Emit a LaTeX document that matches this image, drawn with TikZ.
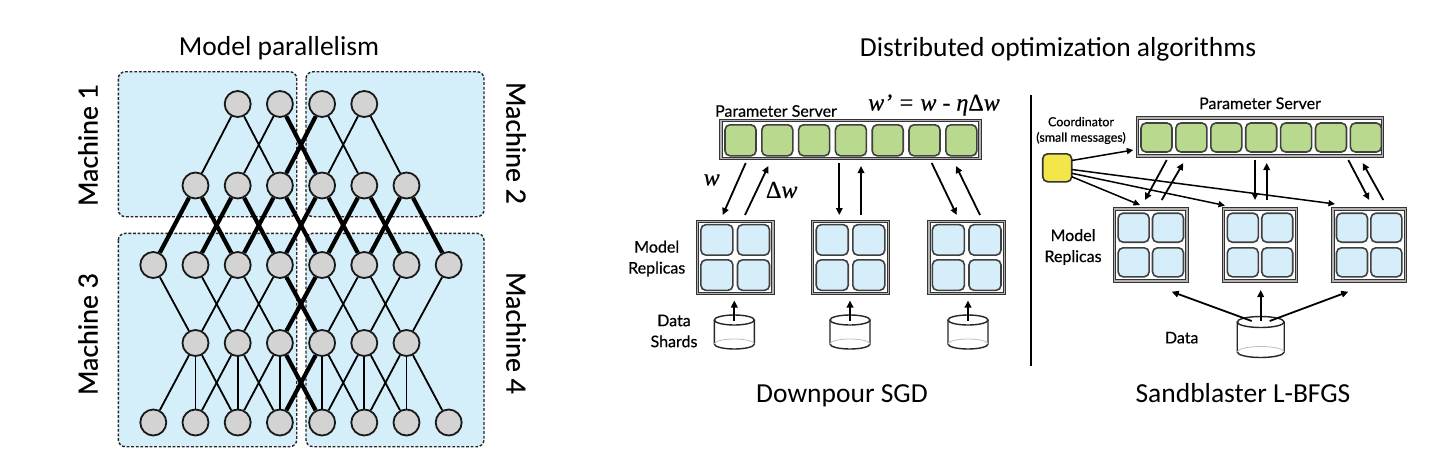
\documentclass[tikz,border=0pt]{standalone}
\usepackage{fontspec}
\setmainfont{Carlito}
\newfontfamily\gill[FakeBold=0.5]{Lato}
\newfontfamily\tms[FakeBold=0.6]{Liberation Serif}
\usetikzlibrary{arrows.meta}
\definecolor{boxblue}{RGB}{212,238,250}
\definecolor{sqblue}{RGB}{213,238,250}
\definecolor{sqgreen}{RGB}{185,217,143}
\definecolor{coordyellow}{RGB}{242,230,75}
\definecolor{nodegray}{RGB}{211,211,211}
\tikzset{
  mbox/.style={draw=black!85, line width=1.4pt, dash pattern=on 2.8pt off 1.8pt, rounded corners=7pt, fill=boxblue},
  neuron/.style={circle, draw=black!90, line width=1.8pt, fill=nodegray, minimum size=26pt, inner sep=0pt},
  thinE/.style={line width=1.8pt},
  thickE/.style={line width=4.2pt},
  ttl/.style={font=\fontsize{27.5}{33}\selectfont, inner sep=0pt},
  mlab/.style={font=\gill\fontsize{26.5}{30}\selectfont, inner sep=0pt},
  glab/.style={font=\gill\fontsize{16}{21}\selectfont, inner sep=0pt, align=center},
  slab/.style={font=\gill\fontsize{12.5}{15.5}\selectfont, inner sep=0pt, align=center},
  mathlab/.style={font=\tms\fontsize{24}{28}\selectfont, inner sep=0pt},
  outerbox/.style={draw=black!80, line width=1pt, double=black!30, double distance=1.2pt, fill=white, inner sep=0pt},
  gsq/.style={draw=black!75, line width=1.6pt, rounded corners=5pt, fill=sqgreen, inner sep=0pt},
  bsq/.style={draw=black!75, line width=1.6pt, rounded corners=5pt, fill=sqblue, inner sep=0pt},
  ysq/.style={draw=black!80, line width=1.6pt, rounded corners=5pt, fill=coordyellow, inner sep=0pt, minimum width=29pt, minimum height=28pt},
  arr/.style={line width=1.8pt, -{Triangle[length=7pt,width=6.5pt]}},
  carr/.style={line width=1.5pt, -{Triangle[length=6.5pt,width=6pt]}},
  cylline/.style={draw=black!85, line width=1.4pt}
}
\begin{document}
\begin{tikzpicture}[x=1pt,y=-1pt]
\useasboundingbox (0,0) rectangle (1448,471);
\fill[white] (0,0) rectangle (1448,471);

% ---------------- Model parallelism ----------------
\node[ttl, anchor=base] (t1) at (279,55.7) {Model parallelism};
\draw[mbox] (118.3,71.7) rectangle (296.7,216.7);
\draw[mbox] (306,71.7) rectangle (484,216.7);
\draw[mbox] (118.3,233.3) rectangle (296.7,446.7);
\draw[mbox] (306,233.3) rectangle (484,446.7);

\node[mlab, rotate=90] (mc1) at (88,145) {Machine 1};
\node[mlab, rotate=-90] (mc2) at (516,143) {Machine 2};
\node[mlab, rotate=90] (mc3) at (88,334) {Machine 3};
\node[mlab, rotate=-90] (mc4) at (516,333) {Machine 4};

\foreach \i in {2,...,5} \node[neuron] (a\i) at ({153.3+42.2*\i},104) {};
\foreach \i in {1,...,6} \node[neuron] (b\i) at ({153.3+42.2*\i},185.5) {};
\foreach \i in {0,...,7} \node[neuron] (c\i) at ({153.3+42.2*\i},265) {};
\foreach \i in {1,...,6} \node[neuron] (d\i) at ({153.3+42.2*\i},343) {};
\foreach \i in {0,...,7} \node[neuron] (e\i) at ({153.3+42.2*\i},422.5) {};

\foreach \u/\v in {a2/b1,a2/b3,a3/b2,a4/b5,a5/b4,a5/b6,
  d1/c0,d1/c2,d2/c1,d2/c3,d3/c2,d4/c5,d5/c4,d5/c6,d6/c5,d6/c7,
  d1/e0,d1/e1,d1/e2,d2/e1,d2/e2,d2/e3,d3/e2,d3/e3,d4/e4,d4/e5,
  d5/e4,d5/e5,d5/e6,d6/e5,d6/e6,d6/e7}
  \draw[thinE] (\u) -- (\v);
\foreach \u/\v in {a3/b4,a4/b3,
  b1/c0,b1/c2,b2/c1,b2/c3,b3/c2,b3/c4,b4/c3,b4/c5,b5/c4,b5/c6,b6/c5,b6/c7,
  d3/c4,d4/c3,d3/e4,d4/e3}
  \draw[thickE] (\u) -- (\v);

% ---------------- Distributed optimization ----------------
\node[ttl, anchor=base] (t2) at (1058,56) {Distributed optimization algorithms};

% Downpour SGD
\node[glab] (psl1) at (776,111) {Parameter Server};
\node[mathlab, anchor=base] (form) at (934,110.5) {\textit{w’ = w - η}Δ\textit{w}};
\node[outerbox, minimum width=259pt, minimum height=38pt] (ps1) at (850.5,139.7) {};
\foreach \k in {0,...,6} \node[gsq, minimum width=31pt, minimum height=31pt] (psa\k) at ({740.5+36.8*\k},140.3) {};

\foreach \n/\x in {ra/735.2, rb/850.5, rc/966.7} {
  \node[outerbox, minimum width=75.5pt, minimum height=72.5pt] (\n) at (\x,257.5) {};
  \foreach \dx/\p in {-18.3/l,18.3/r} \foreach \dy/\q in {-17.6/t,17.6/b}
    \node[bsq, minimum width=32pt, minimum height=30.5pt] (\n\p\q) at ({\x+\dx},{257.5+\dy}) {};
}
\node[glab] (mr1) at (656.7,258.5) {Model\\Replicas};
\node[glab] (ds1) at (674,331) {Data\\Shards};

% cylinders (data shards)
\foreach \n/\cx in {cya/734.3, cyb/850, cyc/968} {
  \filldraw[cylline, fill=white] (\cx-20,320) -- (\cx-20,344) arc[start angle=180, end angle=360, x radius=20pt, y radius=5pt] -- (\cx+20,320);
  \draw[black!25, line width=0.8pt] (\cx-20,344) arc[start angle=180, end angle=0, x radius=20pt, y radius=5pt];
  \draw[cylline] (\cx,320) ellipse[x radius=20pt, y radius=5pt];
  \coordinate (\n) at (\cx,321);
  \coordinate (\n t) at (\cx,300.5);
}
\draw[arr] (cya) -- (cyat);
\draw[arr] (cyb) -- (cybt);
\draw[arr] (cyc) -- (cyct);

\coordinate (p1d0) at (745.7,163); \coordinate (p1d1) at (722.7,215);
\coordinate (p1u0) at (745,215);   \coordinate (p1u1) at (768.3,166);
\coordinate (p2d0) at (839.3,163); \coordinate (p2d1) at (839.3,215);
\coordinate (p2u0) at (861,215);   \coordinate (p2u1) at (861,166);
\coordinate (p3d0) at (931.7,163); \coordinate (p3d1) at (956.7,215);
\coordinate (p3u0) at (980,215);   \coordinate (p3u1) at (956,166);
\foreach \p in {p1,p2,p3} {
  \draw[arr] (\p d0) -- (\p d1);
  \draw[arr] (\p u0) -- (\p u1);
}
\node[mathlab] (wl) at (711.7,180) {\textit{w}};
\node[mathlab] (dwl) at (781.7,190) {Δ\textit{w}};

\node[ttl, anchor=base] (t3) at (842,402) {Downpour SGD};

% separator
\draw[line width=2.8pt] (1031,95) -- (1031,366);

% Sandblaster L-BFGS
\node[glab] (psl2) at (1260,103.3) {Parameter Server};
\node[outerbox, minimum width=245pt, minimum height=38pt] (ps2) at (1260.2,137) {};
\foreach \k in {0,...,6} \node[gsq, minimum width=31pt, minimum height=29pt] (psb\k) at ({1156.5+34.9*\k},137.5) {};

\node[slab] (coordl) at (1081,130.5) {Coordinator\\(small messages)};
\node[ysq] (coord) at (1057.2,167.8) {};

\foreach \n/\x in {sa/1150.8, sb/1260, sc/1369.2} {
  \node[outerbox, minimum width=72.5pt, minimum height=72pt] (\n) at (\x,245) {};
  \foreach \dx/\p in {-17.2/l,17.2/r} \foreach \dy/\q in {-17.3/t,17.3/b}
    \node[bsq, minimum width=31pt, minimum height=29pt] (\n\p\q) at ({\x+\dx},{245+\dy}) {};
}
\node[glab] (mr2) at (1073,247) {Model\\Replicas};
\node[glab] (datal) at (1181.7,337.7) {Data};

% data cylinder
\filldraw[cylline, fill=white] (1237.2,322) -- (1237.2,352) arc[start angle=180, end angle=360, x radius=23.5pt, y radius=5.5pt] -- (1284.2,322);
\draw[black!25, line width=0.8pt] (1237.2,352) arc[start angle=180, end angle=0, x radius=23.5pt, y radius=5.5pt];
\draw[cylline] (1260.7,322) ellipse[x radius=23.5pt, y radius=5.5pt];
\coordinate (dL) at (1251.7,321); \coordinate (dM) at (1260.7,321); \coordinate (dR) at (1269.7,321);
\coordinate (dLt) at (1171.7,291.7); \coordinate (dMt) at (1260.7,290); \coordinate (dRt) at (1348.3,291.7);
\draw[arr] (dL) -- (dLt);
\draw[arr] (dM) -- (dMt);
\draw[arr] (dR) -- (dRt);

\coordinate (q1d0) at (1166.7,160); \coordinate (q1d1) at (1145,200);
\coordinate (q1u0) at (1161.7,200); \coordinate (q1u1) at (1183.3,163);
\coordinate (q2d0) at (1255,160);   \coordinate (q2d1) at (1255,200);
\coordinate (q2u0) at (1266.7,200); \coordinate (q2u1) at (1266.7,163);
\coordinate (q3d0) at (1348.3,160); \coordinate (q3d1) at (1369.3,200);
\coordinate (q3u0) at (1383.3,200); \coordinate (q3u1) at (1362.7,163);
\foreach \p in {q1,q2,q3} {
  \draw[arr] (\p d0) -- (\p d1);
  \draw[arr] (\p u0) -- (\p u1);
}

\coordinate (c0s) at (1071.7,160.5); \coordinate (c0e) at (1133.3,150);
\coordinate (c1s) at (1071.7,176.7); \coordinate (c1e) at (1140,205);
\coordinate (c2s) at (1071.7,173.3); \coordinate (c2e) at (1225,205.5);
\coordinate (c3s) at (1071.7,169.5); \coordinate (c3e) at (1335,204);
\foreach \c in {c0,c1,c2,c3} \draw[carr] (\c s) -- (\c e);

\node[ttl, anchor=base] (t4) at (1243,402) {Sandblaster L-BFGS};
\end{tikzpicture}
\end{document}
